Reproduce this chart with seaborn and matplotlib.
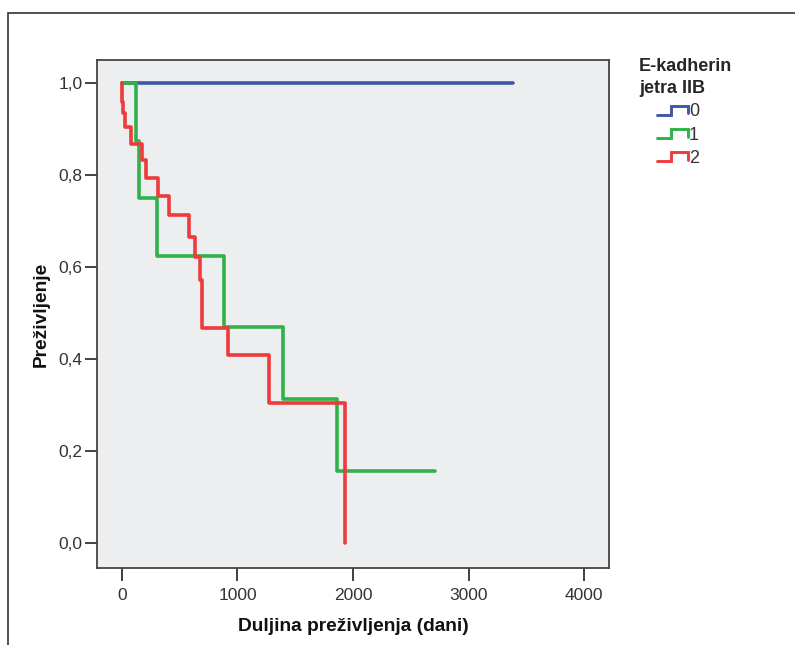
import numpy as np
import pandas as pd
import matplotlib
matplotlib.use("Agg")
import matplotlib.pyplot as plt
import seaborn as sns
from matplotlib.lines import Line2D
from matplotlib.legend_handler import HandlerBase
from matplotlib.patches import Rectangle
from matplotlib.ticker import FuncFormatter

# Kaplan-Meier curves, E-kadherin jetra IIB
groups = ["0", "1", "2"]

t_0 = [0, 3385]
s_0 = [1.0, 1.0]

t_1 = [0, 118, 149, 300, 885, 1394, 1860, 2710]
s_1 = [1.0, 0.875, 0.75, 0.625, 0.469, 0.3125, 0.156, 0.156]

t_2 = [0, 4, 12, 25, 75, 170, 208, 312, 410, 580, 632, 675, 693, 918, 1270, 1931]
s_2 = [1.0, 0.958, 0.935, 0.905, 0.867, 0.833, 0.793, 0.754, 0.713, 0.665,
       0.621, 0.572, 0.467, 0.409, 0.305, 0.0]

x_ticks = [0, 1000, 2000, 3000, 4000]
y_ticks = [0.0, 0.2, 0.4, 0.6, 0.8, 1.0]

colors = {"0": "#3F57A8", "1": "#2FB24A", "2": "#EE3B3B"}

df = pd.concat([
    pd.DataFrame({"t": t_0, "s": s_0, "group": "0"}),
    pd.DataFrame({"t": t_1, "s": s_1, "group": "1"}),
    pd.DataFrame({"t": t_2, "s": s_2, "group": "2"}),
], ignore_index=True)

sns.set_style("white")
plt.rcParams["font.family"] = ["Liberation Sans", "DejaVu Sans"]

fig = plt.figure(figsize=(7.95, 6.45), dpi=100)
# plot box: x 97..609 px, y 60..568 px
ax = fig.add_axes([97 / 795, 1 - 568 / 645, 512 / 795, 508 / 645])
ax.set_facecolor("#EDEEEF")

sns.lineplot(data=df, x="t", y="s", hue="group", palette=colors,
             estimator=None, sort=False, drawstyle="steps-post",
             lw=2.6, legend=False, ax=ax)

ax.set_xlim(-216, 4216)
ax.set_ylim(-0.054, 1.05)
ax.set_xticks(x_ticks)
ax.set_yticks(y_ticks)
ax.yaxis.set_major_formatter(FuncFormatter(lambda v, p: f"{v:.1f}".replace(".", ",")))
ax.tick_params(axis="x", direction="out", length=9.5, width=1.3, color="#333333",
               labelsize=12.5, labelcolor="#333333", bottom=True, pad=5)
ax.tick_params(axis="y", direction="out", length=8.5, width=1.3, color="#333333",
               labelsize=12.5, labelcolor="#333333", left=True, pad=2)
for sp in ax.spines.values():
    sp.set_color("#444444")
    sp.set_linewidth(1.3)

bold = {"family": ["Liberation Sans", "DejaVu Sans"], "weight": "bold", "size": 13.8}
ax.set_xlabel("Duljina preživljenja (dani)", fontdict=bold, labelpad=11, color="#111111")
ax.set_ylabel("Preživljenje", fontdict=bold, labelpad=6, color="#111111")


class StepHandler(HandlerBase):
    def create_artists(self, legend, orig_handle, xdescent, ydescent,
                       width, height, fontsize, trans):
        xs = np.array([0.37, 0.66, 0.66, 1.0, 1.0]) * width - xdescent
        ys = np.array([0.15, 0.15, 0.85, 0.85, 0.25]) * height - ydescent
        ln = Line2D(xs, ys, color=orig_handle.get_color(), lw=2.1, solid_joinstyle="miter")
        ln.set_transform(trans)
        return [ln]


handles = [Line2D([], [], color=colors[g]) for g in groups]
leg = ax.legend(handles, groups, loc="upper left", bbox_to_anchor=(1.059, 1.004),
                frameon=False, borderpad=0, borderaxespad=0, handlelength=2.7,
                handletextpad=0.05, labelspacing=0.35, fontsize=13,
                title="E-kadherin\njetra IIB",
                title_fontproperties={"family": ["Liberation Sans", "DejaVu Sans"],
                                      "weight": "bold", "size": 13},
                alignment="left", handler_map={Line2D: StepHandler()})
leg.get_title().set_linespacing(1.4)
for txt in leg.get_texts():
    txt.set_color("#333333")

# outer frame of the figure panel
fig.patches.append(Rectangle((8 / 795, -0.1), 1.2, 1.1 - 13 / 645, fill=False,
                             ec="#333333", lw=1.2, transform=fig.transFigure,
                             clip_on=False))

fig.savefig("out.png", dpi=100)
